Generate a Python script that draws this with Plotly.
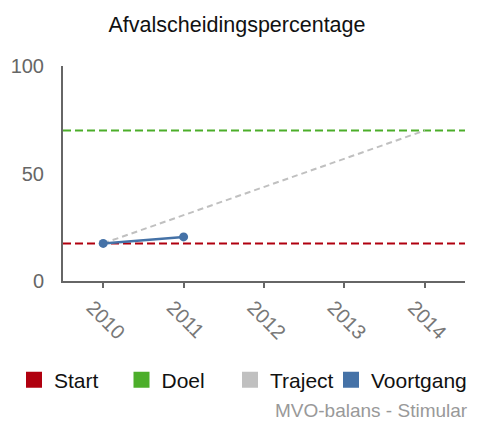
import plotly.graph_objects as go

# ---- data ----
title_text = "Afvalscheidingspercentage"
years = [2010, 2011, 2012, 2013, 2014]
start_value = 17.5
doel_value = 70
traject_years = [2010, 2014]
traject_values = [17.5, 70]
voortgang_years = [2010, 2011]
voortgang_values = [17.5, 20.5]
y_ticks = [0, 50, 100]
x_range = [2009.5, 2014.5]
series_names = ["Start", "Doel", "Traject", "Voortgang"]
credit = "MVO-balans - Stimular"

FONT = "Liberation Sans, Arial, sans-serif"
RED = "#b0000f"
GREEN = "#4cae2a"
GRAY = "#c0c0c0"
BLUE = "#4572a7"
COLORS = [RED, GREEN, GRAY, BLUE]

# page has an 8px body margin, so the figure is 8px smaller and offset
W, H = 470, 420
ML, MR, MT, MB = 55, 13, 58, 147
PW, PH = W - ML - MR, H - MT - MB

fig = go.Figure()

fig.add_trace(go.Scatter(x=x_range, y=[start_value] * 2, mode="lines",
                         line=dict(color=RED, width=2, dash="8px,4px"),
                         showlegend=False, hoverinfo="skip"))
fig.add_trace(go.Scatter(x=x_range, y=[doel_value] * 2, mode="lines",
                         line=dict(color=GREEN, width=2, dash="8px,4px"),
                         showlegend=False, hoverinfo="skip"))
fig.add_trace(go.Scatter(x=traject_years, y=traject_values, mode="lines",
                         line=dict(color=GRAY, width=2, dash="6px,4px"),
                         showlegend=False, hoverinfo="skip"))
fig.add_trace(go.Scatter(x=voortgang_years, y=voortgang_values, mode="lines+markers",
                         line=dict(color=BLUE, width=2.5),
                         marker=dict(color=BLUE, size=9),
                         showlegend=False))

# one legend per entry so each swatch sits at its own spot
legend_left = [6, 113.5, 222, 323]
legend_keys = ["legend", "legend2", "legend3", "legend4"]
layout_legends = {}
for name, col, key, lx in zip(series_names, COLORS, legend_keys, legend_left):
    fig.add_trace(go.Scatter(x=[None], y=[None], mode="markers", name=name, legend=key,
                             marker=dict(symbol="square", size=16, color=col)))
    layout_legends[key] = dict(orientation="h", xref="container", yref="container",
                               x=lx / W, xanchor="left", y=(H - 372) / H, yanchor="middle",
                               font=dict(family=FONT, size=21, color="#111"),
                               itemwidth=30, bgcolor="rgba(0,0,0,0)")

fig.update_layout(
    width=W, height=H,
    margin=dict(l=ML, r=MR, t=MT, b=MB, autoexpand=False),
    paper_bgcolor="white", plot_bgcolor="white",
    font=dict(family=FONT, size=21, color="#666"),
    title=dict(text=title_text, x=229 / W, xanchor="center", y=1 - 16 / H, yanchor="middle",
               yref="container", font=dict(family=FONT, size=21.5, color="#111")),
    showlegend=True,
    annotations=[dict(text=credit, xref="paper", yref="paper",
                      x=(462 - ML) / PW, xanchor="right", y=(H - MB - 402) / PH, yanchor="middle",
                      showarrow=False, font=dict(family=FONT, size=19, color="#999"))],
    **layout_legends,
)

fig.update_xaxes(range=x_range, tickvals=years, ticktext=[str(y) for y in years],
                 tickangle=45, ticks="outside", ticklen=5, tickwidth=1.5, tickcolor="#666",
                 showline=True, linecolor="#666", linewidth=2, showgrid=False, zeroline=False,
                 tickfont=dict(family=FONT, size=20, color="#777"), ticklabelshift=-11,
                 automargin=False)
fig.update_yaxes(range=[0, 100], tickvals=y_ticks, ticks="", showline=True,
                 linecolor="#666", linewidth=2, showgrid=False, zeroline=False,
                 tickfont=dict(family=FONT, size=20, color="#666"), ticklabelstandoff=13,
                 automargin=False)

fig.write_html("out.html")
